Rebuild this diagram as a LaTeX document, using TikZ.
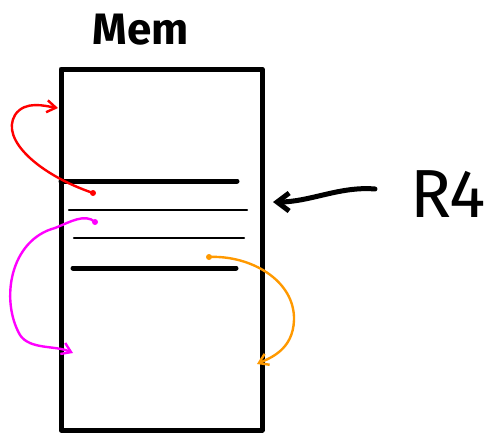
\documentclass[tikz,border=0pt]{standalone}
\usepackage{fontspec}
\setmainfont{Fira Sans}
\usetikzlibrary{arrows.meta}
\definecolor{inkred}{RGB}{255,0,0}
\definecolor{inkmagenta}{RGB}{255,0,255}
\definecolor{inkorange}{RGB}{255,153,0}
\begin{document}
\begin{tikzpicture}[x=1pt,y=-1pt,line cap=round,line join=round,
  memwall/.style={line width=5pt,black},
  rowthick/.style={line width=5pt,black},
  rowthin/.style={line width=2.4pt,black},
  ptr/.style={line width=2.4pt,-{Straight Barb[length=9pt,width=12pt]}},
  lbl/.style={inner sep=0pt,anchor=center}]
  \useasboundingbox (0,0) rectangle (491,434);
  % memory block
  \draw[memwall] (61,69) rectangle (262,430);
  % rows
  \draw[rowthick] (61,181) -- (237,181);
  \draw[rowthin] (69,210) -- (247,210);
  \draw[rowthin] (74,238) -- (244,238);
  \draw[rowthick] (73,268) -- (236,268);
  % labels
  \node[lbl] (mem) at (141,30) {\fontsize{44}{44}\selectfont\bfseries Mem};
  \node[lbl] (reg) at (448,194) {\fontsize{68}{68}\selectfont R4};
  % register pointer
  \coordinate (regtail) at (375,189);
  \coordinate (reghead) at (273,202);
  \draw[line width=5pt,-{Straight Barb[length=12pt,width=18pt]}] (regtail) .. controls (340,186) and (310,202) .. (reghead);
  % red link
  \coordinate (rs) at (93,193);
  \coordinate (re) at (58,108);
  \fill[inkred] (rs) circle (3);
  \draw[ptr,inkred] (rs) .. controls (40,175) and (0,140) .. (15,115) .. controls (25,100) and (45,106) .. (re);
  % magenta link
  \coordinate (ms) at (95,222);
  \coordinate (me) at (73,353);
  \fill[inkmagenta] (ms) circle (3);
  \draw[ptr,inkmagenta] (ms) .. controls (85,213) and (70,222) .. (55,228) .. controls (10,240) and (0,300) .. (20,335) .. controls (30,350) and (55,345) .. (me);
  % orange link
  \coordinate (os) at (209,257);
  \coordinate (oe) at (257,364);
  \fill[inkorange] (os) circle (3);
  \draw[ptr,inkorange] (os) .. controls (250,255) and (295,280) .. (294,320) .. controls (293,350) and (270,358) .. (oe);
\end{tikzpicture}
\end{document}
